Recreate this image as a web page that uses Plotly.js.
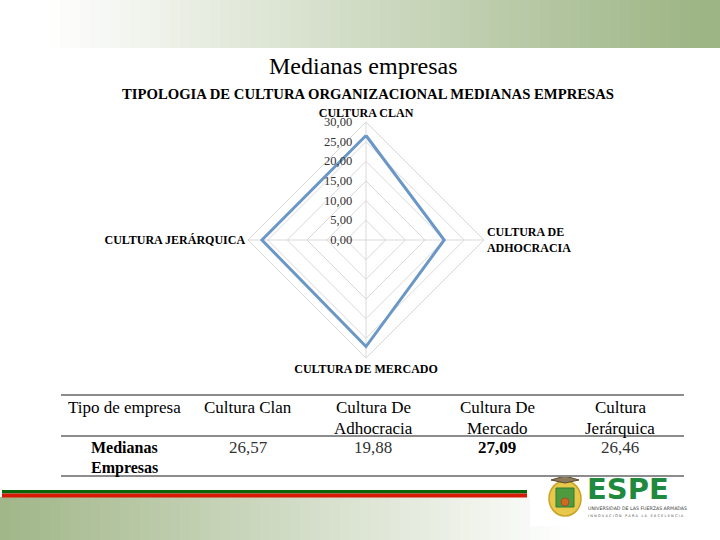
<!DOCTYPE html>
<html>
<head>
<meta charset="utf-8">
<script src="https://cdn.plot.ly/plotly-3.0.1.min.js"></script>
<style>html,body{margin:0;padding:0;background:#fff;}#chart{width:720px;height:540px;}</style>
</head>
<body>
<div id="chart"></div>
<script>
// ---- data ----
const categories = ['CULTURA CLAN', 'CULTURA DE<br>ADHOCRACIA', 'CULTURA DE MERCADO', 'CULTURA JERÁRQUICA'];
const values = [26.57, 19.88, 27.09, 26.46];
const valueLabels = ['26,57', '19,88', '27,09', '26,46'];
const tableHeaders = ['Tipo de empresa', 'Cultura Clan', 'Cultura De<br>Adhocracia', 'Cultura De<br>Mercado', 'Cultura<br>Jerárquica'];
const rowLabel = 'Medianas<br>Empresas';
const chartTitle = 'Medianas empresas';
const chartSubtitle = 'TIPOLOGIA DE CULTURA ORGANIZACIONAL MEDIANAS EMPRESAS';

// ---- helpers ----
const W = 720, H = 540;
const X = px => px / W;
const Y = py => 1 - py / H;
const serif = 'Liberation Serif, Times New Roman, serif';
function lerp(c0, c1, t) {
  return 'rgb(' + c0.map((v, i) => Math.round(v + (c1[i] - v) * t)).join(',') + ')';
}
const shapes = [];
// header gradient
for (let i = 0; i < 72; i++) {
  const x0 = i * 10;
  const t = Math.min(1, Math.max(0, (x0 + 5 - 45) / 655));
  shapes.push({type: 'rect', xref: 'paper', yref: 'paper', x0: X(x0), x1: X(x0 + 10.5), y0: Y(48), y1: Y(0),
    line: {width: 0}, fillcolor: lerp([255, 255, 255], [157, 181, 133], t), layer: 'below'});
}
// bottom gradient
for (let i = 0; i < 72; i++) {
  const x0 = i * 10;
  const t = Math.min(1, Math.max(0, 1 - (x0 + 5) / 570));
  shapes.push({type: 'rect', xref: 'paper', yref: 'paper', x0: X(x0), x1: X(x0 + 10.5), y0: Y(540), y1: Y(497),
    line: {width: 0}, fillcolor: lerp([255, 255, 255], [160, 182, 136], t), layer: 'below'});
}
// stripes
shapes.push({type: 'rect', xref: 'paper', yref: 'paper', x0: X(2), x1: X(527), y0: Y(493.5), y1: Y(490),
  line: {width: 0}, fillcolor: '#0b650b', layer: 'below'});
shapes.push({type: 'rect', xref: 'paper', yref: 'paper', x0: X(2), x1: X(527), y0: Y(497.5), y1: Y(493.5),
  line: {width: 0}, fillcolor: '#d71a06', layer: 'below'});
// logo box
shapes.push({type: 'rect', xref: 'paper', yref: 'paper', x0: X(530), x1: X(720), y0: Y(526), y1: Y(470),
  line: {width: 0}, fillcolor: '#ffffff', layer: 'below'});
// emblem
shapes.push({type: 'circle', xref: 'paper', yref: 'paper', x0: X(549), x1: X(581), y0: Y(516), y1: Y(481),
  line: {width: 1.5, color: '#c9a227'}, fillcolor: '#e8c84a'});
shapes.push({type: 'rect', xref: 'paper', yref: 'paper', x0: X(556), x1: X(574), y0: Y(507), y1: Y(488),
  line: {width: 1, color: '#2f7a2f'}, fillcolor: '#4e9a3e'});
shapes.push({type: 'circle', xref: 'paper', yref: 'paper', x0: X(561), x1: X(569), y0: Y(506), y1: Y(498),
  line: {width: 1, color: '#a0522d'}, fillcolor: '#d2691e'});
shapes.push({type: 'path', xref: 'paper', yref: 'paper',
  path: 'M ' + X(551) + ' ' + Y(480) + ' L ' + X(565) + ' ' + Y(476) + ' L ' + X(579) + ' ' + Y(480) + ' L ' + X(565) + ' ' + Y(483) + ' Z',
  line: {width: 1, color: '#5a4a2a'}, fillcolor: '#8a7a5a'});
// table rules
[395, 436, 476].forEach(py => shapes.push({type: 'line', xref: 'paper', yref: 'paper', x0: X(61), x1: X(684),
  y0: Y(py), y1: Y(py), line: {width: 2, color: '#8c8c8c'}}));

const annotations = [];
function textAt(px, py, text, size, opts) {
  opts = opts || {};
  annotations.push({xref: 'paper', yref: 'paper', x: X(px), y: Y(py), text: text, showarrow: false,
    xanchor: opts.xanchor || 'center', yanchor: 'middle', borderpad: 0,
    font: {family: opts.family || serif, size: size, color: opts.color || '#000', weight: opts.weight || 'normal'}});
}
function linesAt(px, py, text, size, lh, opts) {
  text.split('<br>').forEach((t, i) => textAt(px, py + i * lh, t, size, opts));
}
textAt(363, 66, chartTitle, 24);
textAt(368.5, 94, chartSubtitle, 14.7, {weight: 'bold'});

const colX = [124, 248, 373, 497, 620];
tableHeaders.forEach((h, i) => linesAt(colX[i], 407, h, 17, 21));
linesAt(colX[0], 447.5, rowLabel, 16, 20.5, {weight: 'bold'});
valueLabels.forEach((v, i) => {
  const best = values[i] === Math.max(...values);
  textAt(colX[i + 1], 447.5, v, 17, {weight: best ? 'bold' : 'normal', color: best ? '#000' : '#333'});
});

// logo text
textAt(586, 488.5, 'ESPE', 29, {family: 'DejaVu Sans, sans-serif', weight: 'bold', color: '#1f8a3e', xanchor: 'left'});
textAt(587, 508.5, 'UNIVERSIDAD DE LAS FUERZAS ARMADAS', 4.7, {family: 'DejaVu Sans, sans-serif', color: '#444', xanchor: 'left'});
textAt(587, 515.5, 'I N N O V A C I Ó N   P A R A   L A   E X C E L E N C I A', 3.6, {family: 'DejaVu Sans, sans-serif', color: '#555', xanchor: 'left'});

const trace = {
  type: 'scatterpolar',
  mode: 'lines',
  r: values.concat([values[0]]),
  theta: categories.concat([categories[0]]),
  line: {color: '#6a97c6', width: 3},
  hoverinfo: 'skip',
  showlegend: false
};

const layout = {
  width: W, height: H,
  margin: {l: 0, r: 0, t: 0, b: 0},
  paper_bgcolor: '#ffffff',
  separators: ',.',
  showlegend: false,
  shapes: shapes,
  annotations: annotations,
  polar: {
    domain: {x: [248 / W, 484 / W], y: [1 - 358 / H, 1 - 122 / H]},
    bgcolor: 'rgba(0,0,0,0)',
    gridshape: 'linear',
    angularaxis: {
      rotation: 90, direction: 'clockwise',
      tickfont: {family: serif, size: 12, color: '#000', weight: 'bold'},
      gridcolor: '#d9d9d9', linecolor: '#d9d9d9', showline: true, ticks: ''
    },
    radialaxis: {
      range: [0, 30], dtick: 5, tickformat: '.2f', angle: 90, side: 'counterclockwise', tickangle: 90,
      showline: false, gridcolor: '#d9d9d9', ticks: 'outside', ticklen: 9, tickcolor: 'rgba(0,0,0,0)',
      tickfont: {family: serif, size: 12.5, color: '#333'}
    }
  }
};

Plotly.newPlot('chart', [trace], layout, {staticPlot: true, displayModeBar: false});
</script>
</body>
</html>
